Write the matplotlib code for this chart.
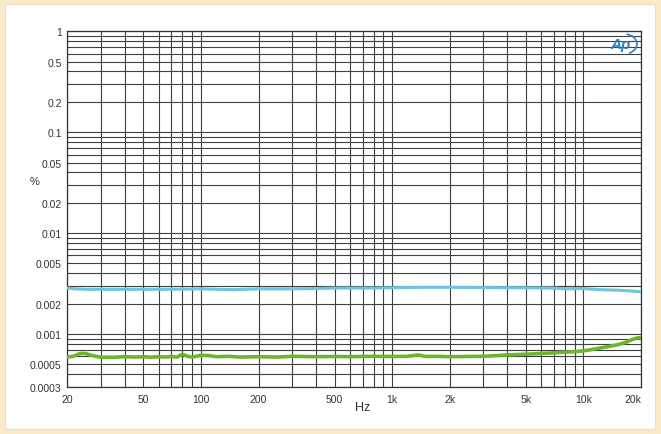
import matplotlib
matplotlib.use("Agg")
import matplotlib.pyplot as plt
from matplotlib.patches import Rectangle, Arc
from matplotlib.ticker import FixedLocator, NullFormatter, LogLocator

# ---- data ----
green_freq = [20, 21.5, 23.3, 25, 27, 30, 35, 40, 45, 50, 55, 60, 65, 70, 75, 80, 85, 90,
              100, 110, 120, 140, 160, 200, 250, 300, 400, 500, 600, 700, 800, 1000, 1200,
              1370, 1500, 1700, 2000, 2500, 3000, 3500, 4000, 5000, 6000, 7000, 8000, 9000,
              10000, 11000, 12000, 13500, 15000, 16500, 18000, 19000, 20000]
green_val = [0.00059, 0.0006, 0.00064, 0.00064, 0.00061, 0.000587, 0.000587, 0.000595,
             0.00059, 0.000595, 0.000588, 0.000595, 0.00059, 0.000598, 0.00059, 0.00063,
             0.0006, 0.00059, 0.000615, 0.00061, 0.000595, 0.0006, 0.00059, 0.000595,
             0.00059, 0.0006, 0.000595, 0.000598, 0.000595, 0.000598, 0.0006, 0.000598,
             0.0006, 0.00062, 0.000598, 0.0006, 0.000595, 0.000598, 0.0006, 0.00061,
             0.00062, 0.00063, 0.00064, 0.00065, 0.00066, 0.000667, 0.00068, 0.0007,
             0.00072, 0.00075, 0.00078, 0.00082, 0.00088, 0.00091, 0.00092]

blue_freq = [20, 22, 25, 30, 40, 50, 70, 100, 120, 150, 200, 300, 400, 500, 700, 1000,
             1500, 2000, 3000, 5000, 7000, 8000, 10000, 12000, 15000, 17000, 20000]
blue_val = [0.00285, 0.0028, 0.00277, 0.00277, 0.00277, 0.00277, 0.00277, 0.0028, 0.00277,
            0.00275, 0.0028, 0.0028, 0.00282, 0.00285, 0.00285, 0.00287, 0.0029, 0.0029,
            0.00288, 0.00287, 0.00285, 0.0028, 0.00282, 0.00275, 0.00272, 0.00268, 0.00262]

x_ticks = [20, 50, 100, 200, 500, 1000, 2000, 5000, 10000, 20000]
x_labels = ["20", "50", "100", "200", "500", "1k", "2k", "5k", "10k", "20k"]
y_ticks = [1, 0.5, 0.2, 0.1, 0.05, 0.02, 0.01, 0.005, 0.002, 0.001, 0.0005, 0.0003]
y_labels = ["1", "0.5", "0.2", "0.1", "0.05", "0.02", "0.01", "0.005", "0.002", "0.001",
            "0.0005", "0.0003"]

plt.rcParams['font.family'] = ['Liberation Sans', 'DejaVu Sans']

W, H = 661, 435
fig = plt.figure(figsize=(W / 100, H / 100), dpi=100, facecolor='#FBEBC9')
# inner white panel
fig.patches.append(Rectangle((5 / W, 5 / H), (W - 11) / W, (H - 10) / H,
                             transform=fig.transFigure, facecolor='white',
                             edgecolor='#EEDDB8', linewidth=0.8, zorder=-10))

ax = fig.add_axes([67.3 / W, 1 - 387.7 / H, (641 - 67.3) / W, (387.7 - 32.3) / H])
ax.set_zorder(5)
ax.set_xscale('log')
ax.set_yscale('log')
ax.set_xlim(20, 20000)
ax.set_ylim(0.0003, 1)

grid_color = '#404040'
ax.xaxis.set_major_locator(FixedLocator(x_ticks))
ax.xaxis.set_minor_locator(LogLocator(base=10, subs=range(1, 10), numticks=100))
ax.xaxis.set_minor_formatter(NullFormatter())
ax.set_xticks(x_ticks)
ax.set_xticklabels(x_labels)
ax.yaxis.set_major_locator(FixedLocator(y_ticks))
ax.yaxis.set_minor_locator(LogLocator(base=10, subs=range(1, 10), numticks=100))
ax.yaxis.set_minor_formatter(NullFormatter())
ax.set_yticks(y_ticks)
ax.set_yticklabels(y_labels)

ax.grid(True, which='both', color=grid_color, linewidth=0.8)
ax.set_axisbelow(True)
ax.tick_params(which='both', length=0, labelsize=7.5, colors='#333333')
ax.tick_params(axis='x', pad=5)
ax.tick_params(axis='y', pad=4)
for s in ax.spines.values():
    s.set_color('#333333')
    s.set_linewidth(0.9)

lbls = ax.get_xticklabels()
lbls[-1].set_horizontalalignment('right')

ax.plot(blue_freq, blue_val, color='#6CC6DD', linewidth=2.2, zorder=3)
ax.plot(green_freq, green_val, color='#6CB52D', linewidth=2.6, zorder=3)

fig.text(35 / W, 1 - 182 / H, '%', fontsize=8, color='#333333', ha='center', va='center')
fig.text(363 / W, 1 - 408 / H, 'Hz', fontsize=9, color='#333333', ha='center', va='center')

# Ap logo (drawn above the grid)
ax.text(621 / W, 1 - 45 / H, 'Ap', fontsize=11, color='#2E80C4', fontstyle='italic',
        fontweight='bold', ha='center', va='center', zorder=10,
        transform=fig.transFigure, clip_on=False)
ax.add_patch(Arc((624 / W, 1 - 45 / H), 26 / W, 20 / H, angle=0, theta1=-70, theta2=80,
                 transform=fig.transFigure, color='#2E80C4', linewidth=1.2, zorder=10,
                 clip_on=False))

fig.savefig('out.png', dpi=100, facecolor=fig.get_facecolor())
